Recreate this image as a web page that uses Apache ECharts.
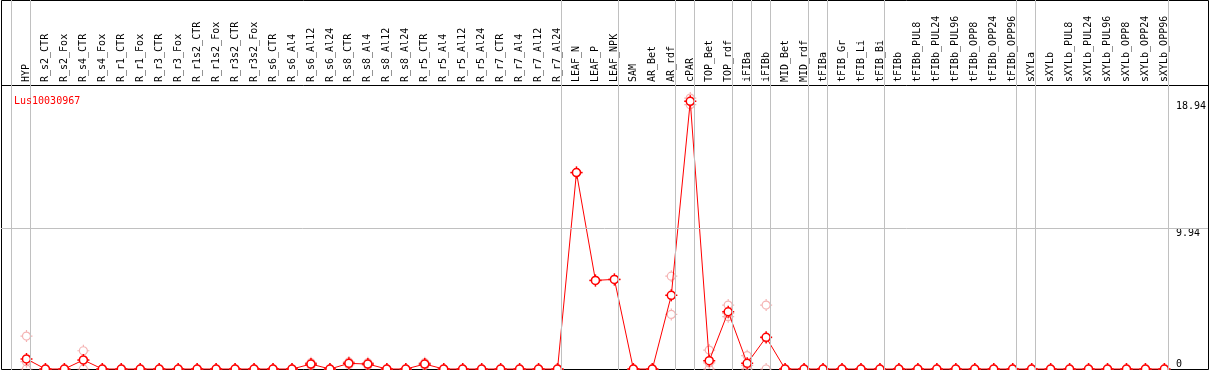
<!DOCTYPE html>
<html><head><meta charset="utf-8">
<script src="https://cdn.jsdelivr.net/npm/echarts@6/dist/echarts.min.js"></script>
<style>html,body{margin:0;padding:0;background:#fff}#c{width:1209px;height:370px}</style>
</head><body><div id="c"></div>
<script>
const chartTitle = 'Lus10030967';
const categories = ['HYP','R_s2_CTR','R_s2_Fox','R_s4_CTR','R_s4_Fox','R_r1_CTR','R_r1_Fox','R_r3_CTR','R_r3_Fox',
  'R_r1s2_CTR','R_r1s2_Fox','R_r3s2_CTR','R_r3s2_Fox','R_s6_CTR','R_s6_Al4','R_s6_Al12','R_s6_Al24',
  'R_s8_CTR','R_s8_Al4','R_s8_Al12','R_s8_Al24','R_r5_CTR','R_r5_Al4','R_r5_Al12','R_r5_Al24',
  'R_r7_CTR','R_r7_Al4','R_r7_Al12','R_r7_Al24','LEAF_N','LEAF_P','LEAF_NPK','SAM','AR_Bet','AR_rdf',
  'cPAR','TOP_Bet','TOP_rdf','iFIBa','iFIBb','MID_Bet','MID_rdf','tFIBa','tFIB_Gr','tFIB_Li','tFIB_Bi',
  'tFIBb','tFIBb_PUL8','tFIBb_PUL24','tFIBb_PUL96','tFIBb_OPP8','tFIBb_OPP24','tFIBb_OPP96',
  'sXYLa','sXYLb','sXYLb_PUL8','sXYLb_PUL24','sXYLb_PUL96','sXYLb_OPP8','sXYLb_OPP24','sXYLb_OPP96'];
// mean expression per sample
const meanValues = [0.71,0,0,0.64,0,0,0,0,0, 0,0,0,0,0,0,0.35,0, 0.40,0.35,0,0,0.35,0,0,0, 0,0,0,0,
  13.90,6.27,6.34,0,0,5.21, 18.94,0.59,4.05,0.40,2.24,0,0,0,0,0,0, 0,0,0,0,0,0,0, 0,0,0,0,0,0,0,0];
// replicate values per sample
const rep1 = [2.33,0,0,1.29,0,0,0,0,0, 0,0,0,0,0,0,0.45,0, 0.50,0.45,0,0,0.45,0,0,0, 0,0,0,0,
  13.90,6.27,6.34,0,0,6.57, 19.17,1.34,4.52,0.94,4.52,0,0,0,0,0,0, 0,0,0,0,0,0,0, 0,0,0,0,0,0,0,0];
const rep2 = [0.52,0,0,0.60,0,0,0,0,0, 0,0,0,0,0,0,0.35,0, 0.40,0.35,0,0,0.35,0,0,0, 0,0,0,0,
  13.90,6.27,6.34,0,0,5.20, 18.94,0.43,3.93,0.26,2.20,0,0,0,0,0,0, 0,0,0,0,0,0,0, 0,0,0,0,0,0,0,0];
const rep3 = [0,0,0,0,0,0,0,0,0, 0,0,0,0,0,0,0.25,0, 0.30,0.25,0,0,0.25,0,0,0, 0,0,0,0,
  13.90,6.27,6.34,0,0,3.86, 18.70,0,3.70,0,0,0,0,0,0,0,0, 0,0,0,0,0,0,0, 0,0,0,0,0,0,0,0];
const yTickValues = [0, 9.94, 18.94];
const yTickLabels = ['0', '9.94', '18.94'];
const yMax = 20.093;
// index of the last sample in each group (separator drawn after it)
const groupEnds = [-1, 0, 28, 31, 34, 35, 37, 38, 39, 41, 42, 45, 52, 53, 60];

const FONT = 'DejaVu Sans Mono';
const markerPath = 'path://M6 0L6 1.8M6 10.2L6 12M0 6L1.8 6M10.2 6L12 6' +
  'M2 6C2 3.791 3.791 2 6 2C8.209 2 10 3.791 10 6C10 8.209 8.209 10 6 10C3.791 10 2 8.209 2 6Z';
const labelFor = v => yTickLabels[yTickValues.indexOf(v)] ?? String(v);

const repPoints = [];
categories.forEach((c, i) => { [rep1, rep2, rep3].forEach(r => repPoints.push([c, r[i]])); });

const sepLines = groupEnds.map(i => [{xAxis: i + 0.21, y: 0}, {xAxis: i + 0.21, y: 370}]);
sepLines.push([{x: 1, yAxis: yTickValues[1]}, {x: 1208, yAxis: yTickValues[1]}]);

const chart = echarts.init(document.getElementById('c'), null, {renderer: 'canvas'});
chart.setOption({
  animation: false,
  backgroundColor: '#fff',
  title: {text: chartTitle, left: 9, top: 91, textStyle: {color: '#f00', fontFamily: FONT, fontSize: 10, fontWeight: 'normal'}},
  grid: {left: 17, right: 33, top: 85, bottom: 1, containLabel: false},
  xAxis: [
    {type: 'category', data: categories, position: 'top', boundaryGap: true,
     axisLine: {show: false}, axisTick: {show: false}, splitLine: {show: false},
     axisLabel: {interval: 0, rotate: 90, margin: 3, color: '#000', fontFamily: FONT, fontSize: 10}},
    {type: 'value', min: -0.5, max: categories.length - 0.5, position: 'bottom', show: false}
  ],
  yAxis: [
    {type: 'value', min: 0, max: yMax, position: 'right',
     axisLine: {show: false}, axisTick: {show: false}, splitLine: {show: false},
     axisLabel: {customValues: yTickValues.slice(1), formatter: labelFor, verticalAlign: 'top', align: 'left',
       margin: 2, color: '#000', fontFamily: FONT, fontSize: 10}},
    {type: 'value', min: 0, max: yMax, position: 'right',
     axisLine: {show: false}, axisTick: {show: false}, splitLine: {show: false},
     axisLabel: {customValues: yTickValues.slice(0, 1), formatter: labelFor, verticalAlign: 'bottom', align: 'left',
       margin: 2, color: '#000', fontFamily: FONT, fontSize: 10}}
  ],
  graphic: [
    {type: 'rect', z: 2, silent: true, shape: {x: 1.5, y: 0.5, width: 1207, height: 369}, style: {fill: null, stroke: '#000', lineWidth: 1}},
    {type: 'line', z: 2, silent: true, shape: {x1: 1.5, y1: 85.5, x2: 1208.5, y2: 85.5}, style: {stroke: '#000', lineWidth: 1}}
  ],
  series: [
    {type: 'line', xAxisIndex: 1, yAxisIndex: 0, z: 1, silent: true, clip: false,
     data: [[-0.5, 0]], showSymbol: false, lineStyle: {opacity: 0},
     markLine: {silent: true, symbol: 'none', animation: false, label: {show: false},
       lineStyle: {color: '#c0c0c0', width: 1, type: 'solid'}, emphasis: {disabled: true}, data: sepLines}},
    {type: 'scatter', xAxisIndex: 0, yAxisIndex: 0, z: 3, silent: true, clip: false,
     data: repPoints, symbol: markerPath, symbolSize: 12, symbolKeepAspect: true,
     itemStyle: {color: 'rgba(255,255,255,0)', borderColor: '#f2a0a0', borderWidth: 1.2}},
    {type: 'line', xAxisIndex: 0, yAxisIndex: 0, z: 4, silent: true, clip: false,
     data: meanValues, symbol: markerPath, symbolSize: 12, symbolKeepAspect: true, showAllSymbol: true,
     lineStyle: {color: '#f00', width: 1}, itemStyle: {color: '#fff', borderColor: '#f00', borderWidth: 1.5}}
  ]
});
</script></body></html>
